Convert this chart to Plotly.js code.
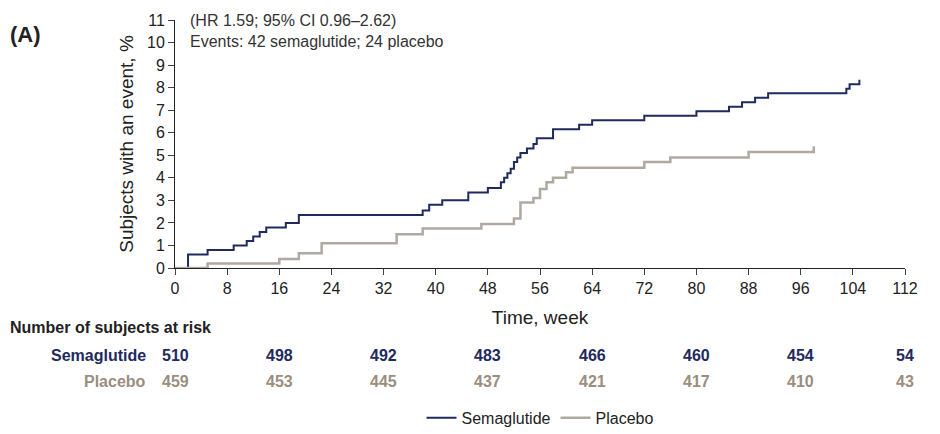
<!DOCTYPE html>
<html>
<head>
<meta charset="utf-8">
<script src="https://cdn.plot.ly/plotly-3.0.1.min.js"></script>
<style>body{margin:0;background:#fff}#chart{width:940px;height:434px}</style>
</head>
<body>
<div id="chart"></div>
<script>
// step curves (week, cumulative %)
const semaWeeks = [0, 1.5, 2, 5, 9, 11, 12, 13, 14, 17, 19, 38, 39, 41, 45, 48, 50, 50.5, 51, 51.5, 52, 52.5, 53, 54, 55, 55.5, 58, 62, 64, 72, 80, 85, 87, 89, 91, 103, 103.5, 105];
const semaPct = [0, 0, 0.6, 0.8, 1.0, 1.2, 1.4, 1.6, 1.8, 2.0, 2.35, 2.55, 2.8, 3.0, 3.35, 3.55, 3.8, 4.0, 4.2, 4.4, 4.7, 4.9, 5.1, 5.3, 5.5, 5.75, 6.15, 6.35, 6.55, 6.75, 6.95, 7.15, 7.35, 7.55, 7.75, 7.95, 8.15, 8.35];
const placWeeks = [0, 5, 16, 19, 22.5, 34, 38, 47, 52, 53, 55, 56, 57, 58, 60, 61, 72, 76, 88, 98];
const placPct = [0, 0.2, 0.4, 0.65, 1.1, 1.5, 1.75, 1.95, 2.2, 2.9, 3.1, 3.5, 3.8, 4.0, 4.25, 4.45, 4.7, 4.9, 5.15, 5.4];

const riskWeeks = [0, 16, 32, 48, 64, 80, 96, 112];
const semaRisk = [510, 498, 492, 483, 466, 460, 454, 54];
const placRisk = [459, 453, 445, 437, 421, 417, 410, 43];

const navy = '#1f2a5e', grey = '#b0a9a1', greyText = '#9a8e80';

const ann = [];
semaRisk.forEach((v, i) => ann.push({x: riskWeeks[i], y: -0.351, xref: 'x', yref: 'paper', yanchor: 'middle', text: '<b>' + v + '</b>', showarrow: false, font: {size: 16, color: navy}}));
placRisk.forEach((v, i) => ann.push({x: riskWeeks[i], y: -0.456, xref: 'x', yref: 'paper', yanchor: 'middle', text: '<b>' + v + '</b>', showarrow: false, font: {size: 16, color: greyText}}));
ann.push({x: -27 / 730, y: -0.351, xref: 'paper', yref: 'paper', xanchor: 'right', yanchor: 'middle', text: '<b>Semaglutide</b>', showarrow: false, font: {size: 16, color: navy}});
ann.push({x: -27 / 730, y: -0.456, xref: 'paper', yref: 'paper', xanchor: 'right', yanchor: 'middle', text: '<b>Placebo</b>', showarrow: false, font: {size: 16, color: greyText}});
ann.push({x: -167 / 730, y: -0.238, xref: 'paper', yref: 'paper', xanchor: 'left', yanchor: 'middle', text: '<b>Number of subjects at risk</b>', showarrow: false, font: {size: 16, color: '#222'}});
ann.push({x: -167 / 730, y: 1.0, xref: 'paper', yref: 'paper', xanchor: 'left', text: '<b>(A)</b>', showarrow: false, font: {size: 22, color: '#222'}});
ann.push({x: 2 / 112, y: 1.04, xref: 'paper', yref: 'paper', xanchor: 'left', yanchor: 'top', text: '(HR 1.59; 95% CI 0.96–2.62)<br>Events: 42 semaglutide; 24 placebo', align: 'left', showarrow: false, font: {size: 16, color: '#333'}});

const traces = [
  {x: semaWeeks, y: semaPct, mode: 'lines', line: {shape: 'hv', color: navy, width: 2}, name: 'Semaglutide'},
  {x: placWeeks, y: placPct, mode: 'lines', line: {shape: 'hv', color: grey, width: 2.5}, name: 'Placebo'}
];

const layout = {
  width: 940, height: 434,
  margin: {l: 175, r: 35, t: 20, b: 166},
  font: {family: 'Liberation Sans, Arial, sans-serif', color: '#222', size: 16},
  paper_bgcolor: '#fff', plot_bgcolor: '#fff',
  xaxis: {range: [0, 112], automargin: false, tickvals: [0, 8, 16, 24, 32, 40, 48, 56, 64, 72, 80, 88, 96, 104, 112], ticks: 'outside', ticklen: 6, showgrid: false, zeroline: false, showline: true, linecolor: '#222', title: {text: 'Time, week', standoff: 14}},
  yaxis: {range: [0, 11], automargin: false, dtick: 1, ticks: 'outside', ticklen: 6, showgrid: false, zeroline: false, showline: true, linecolor: '#222', title: {text: 'Subjects with an event, %', standoff: 8}},
  showlegend: true,
  legend: {orientation: 'h', x: 0.5, xanchor: 'center', yref: 'container', y: 0.037, yanchor: 'middle', font: {size: 16}},
  annotations: ann
};

Plotly.newPlot('chart', traces, layout, {displayModeBar: false, staticPlot: true});
</script>
</body>
</html>
